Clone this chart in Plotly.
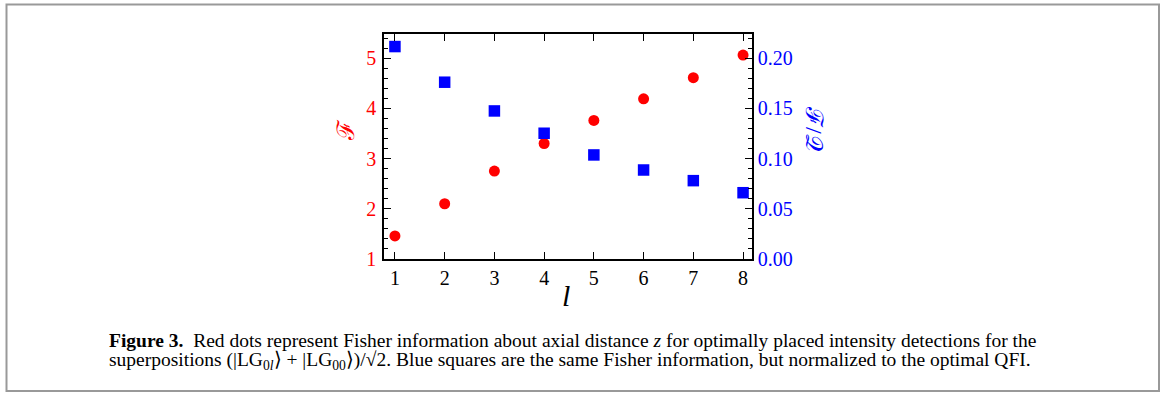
import plotly.graph_objects as go

l_values = [1, 2, 3, 4, 5, 6, 7, 8]
fisher = [1.46, 2.10, 2.75, 3.30, 3.76, 4.19, 4.61, 5.06]
fisher_over_qfi = [0.2115, 0.176, 0.1474, 0.1252, 0.1036, 0.0886, 0.078, 0.066]

left_ticks = [1, 2, 3, 4, 5]
right_ticks = [0.0, 0.05, 0.10, 0.15, 0.20]
right_tick_text = ["0.00", "0.05", "0.10", "0.15", "0.20"]

W, H = 1162, 394
H_LAYOUT = 405
RED = "#ff0000"
BLUE = "#0000ff"
FONT = "Liberation Serif"

def py(y_px):
    return 1 - y_px / H

fig = go.Figure()
fig.add_trace(go.Scatter(x=l_values, y=fisher, mode="markers",
                         marker=dict(symbol="circle", size=11, color=RED),
                         yaxis="y", showlegend=False))
fig.add_trace(go.Scatter(x=l_values, y=fisher_over_qfi, mode="markers",
                         marker=dict(symbol="square", size=11.5, color=BLUE),
                         yaxis="y2", showlegend=False))

x0, x1 = 384 / W, 752 / W
y0, y1 = py(259), py(34)

axis_common = dict(showgrid=False, zeroline=False, showline=True, linecolor="black",
                   linewidth=1.5, ticks="inside", ticklen=7, tickwidth=1.2, tickcolor="black")

fig.update_layout(
    width=W, height=H_LAYOUT, autosize=False,
    margin=dict(l=0, r=0, t=0, b=0),
    paper_bgcolor="white", plot_bgcolor="white",
    font=dict(family=FONT, size=20, color="black"),
    xaxis=dict(domain=[x0, x1], range=[0.78, 8.18], tickvals=l_values,
               mirror="ticks", tickfont=dict(color="black", size=20), **axis_common),
    yaxis=dict(domain=[y0, y1], range=[1, 5.48], tickvals=left_ticks,
               tickfont=dict(color=RED, size=20), ticklabelstandoff=2,
               minor=dict(dtick=0.2, ticklen=4, tickcolor="black", ticks="inside"),
               **axis_common),
    yaxis2=dict(overlaying="y", side="right", range=[0, 0.224], tickvals=right_ticks,
                ticktext=right_tick_text, tickfont=dict(color=BLUE, size=20),
                minor=dict(dtick=0.01, ticklen=4, tickcolor="black", ticks="inside"),
                **axis_common),
)

# outer frame
fig.add_shape(type="rect", xref="paper", yref="paper",
              x0=6.5 / W, x1=1159 / W, y0=py(391), y1=py(4.5),
              line=dict(color="#999999", width=2), fillcolor="rgba(0,0,0,0)")

# axis titles
fig.add_annotation(x=346 / W, y=py(130), xref="paper", yref="paper",
                   xanchor="center", yanchor="middle",
                   text="ℱ", showarrow=False, textangle=-90,
                   font=dict(family=FONT, size=24, color=RED))
fig.add_annotation(x=814 / W, y=py(128), xref="paper", yref="paper",
                   xanchor="center", yanchor="middle",
                   text="ℱ/𝒬", showarrow=False, textangle=90,
                   font=dict(family=FONT, size=24, color=BLUE))
fig.add_annotation(x=566 / W, y=py(295), xref="paper", yref="paper",
                   xanchor="center", yanchor="middle",
                   text="<i>l</i>", showarrow=False,
                   font=dict(family=FONT, size=30, color="black"))

# caption
fig.add_annotation(x=107 / W, y=py(340), xref="paper", yref="paper",
                   xanchor="left", yanchor="middle", showarrow=False, align="left",
                   text="<b>Figure 3.</b>  Red dots represent Fisher information about axial distance <i>z</i> for optimally placed intensity detections for the",
                   font=dict(family=FONT, size=19.5, color="black"))
fig.add_annotation(x=107 / W, y=py(361), xref="paper", yref="paper",
                   xanchor="left", yanchor="middle", showarrow=False, align="left",
                   text="superpositions (|LG<sub>0<i>l</i></sub>⟩ + |LG<sub>00</sub>⟩)/√2. Blue squares are the same Fisher information, but normalized to the optimal QFI.",
                   font=dict(family=FONT, size=19.5, color="black"))

fig.write_html("out.html", config={"responsive": False})
